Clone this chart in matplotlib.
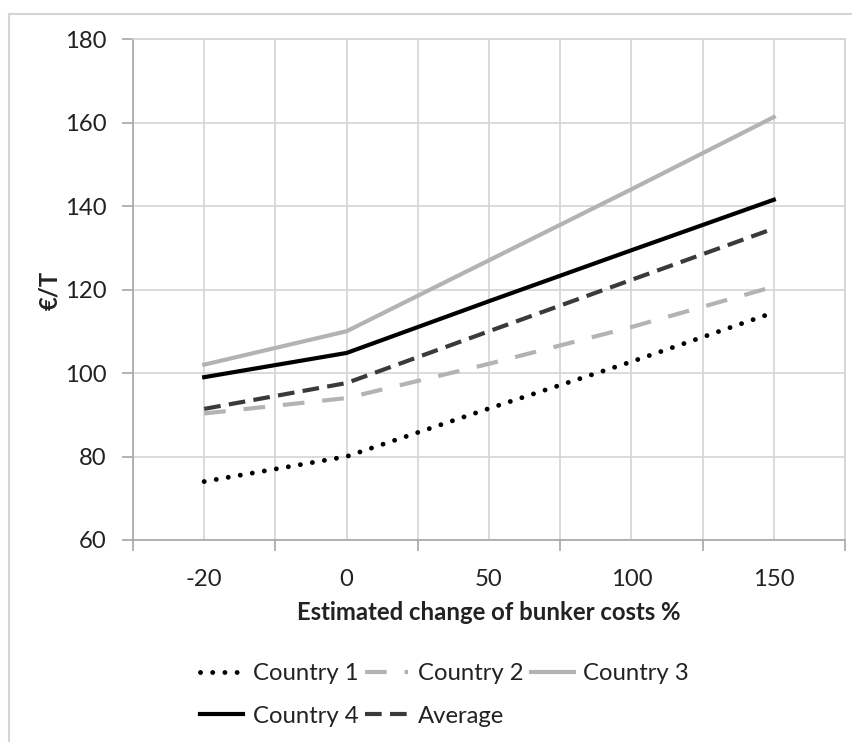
# Bunker cost scenario chart (Excel-style line chart)

import matplotlib
matplotlib.use('Agg')
import matplotlib.pyplot as plt
from matplotlib.lines import Line2D
import numpy as np

categories = ['-20', '0', '50', '100', '150']
country1 = [74.0, 80.0, 91.5, 102.7, 114.5]
country2 = [90.3, 94.0, 102.2, 111.0, 120.7]
country3 = [102.0, 110.0, 127.0, 144.0, 161.3]
country4 = [99.0, 104.8, 117.2, 129.4, 141.5]
average = [91.4, 97.6, 110.0, 122.3, 134.6]
y_ticks = [60, 80, 100, 120, 140, 160, 180]

plt.rcParams['font.family'] = ['Lato', 'DejaVu Sans']
FS = 17.2

W, H = 853, 742
fig = plt.figure(figsize=(W / 100, H / 100), dpi=100)
# plot area in pixel coords: x 133..845, y 39..540
ax = fig.add_axes([133 / W, 1 - 540 / H, (845 - 133) / W, (540 - 39) / H])

# outer chart frame (left and top edges visible)
frame_c = '#d4d4d4'
fig.add_artist(Line2D([9 / W, 9 / W], [0, 1 - 14 / H], color=frame_c, lw=1.5))
fig.add_artist(Line2D([9 / W, 1], [1 - 14 / H, 1 - 14 / H], color=frame_c, lw=1.5))

x = np.arange(len(categories))
lw = 3.0
l1, = ax.plot(x, country1, color='black', lw=3.5, linestyle=(0, (0.01, 2.5)),
              dash_capstyle='round', label='Country 1')
l2, = ax.plot(x, country2, color='#b3b3b3', lw=lw, linestyle=(0, (5.2, 4.3)),
              label='Country 2')
l3, = ax.plot(x, country3, color='#b3b3b3', lw=lw, label='Country 3')
l4, = ax.plot(x, country4, color='black', lw=lw, label='Country 4')
l5, = ax.plot(x, average, color='#3a3a3a', lw=lw, linestyle=(0, (4.0, 2.0)),
              label='Average')

ax.set_xlim(-0.5, len(categories) - 0.5)
ax.set_ylim(60, 180)

# major ticks at category boundaries (tick marks), minor at centers (labels)
ax.set_xticks(np.arange(-0.5, len(categories), 1.0))
ax.set_xticklabels([])
ax.set_xticks(x, minor=True)
ax.set_xticklabels(categories, minor=True)
ax.tick_params(axis='x', which='major', length=8, width=1.2, color='#a6a6a6', direction='out')
ax.tick_params(axis='x', which='minor', length=0, labelsize=FS, pad=21, labelcolor='#222222')
ax.set_yticks(y_ticks)
ax.tick_params(axis='y', length=8, width=1.2, color='#a6a6a6', labelsize=FS, pad=11,
               labelcolor='#222222')

grid_c = '#d4d4d4'
ax.grid(True, which='both', color=grid_c, lw=1.2)
ax.set_axisbelow(True)
for side in ['top', 'right']:
    ax.spines[side].set_color(grid_c)
    ax.spines[side].set_linewidth(1.2)
for side in ['left', 'bottom']:
    ax.spines[side].set_color('#a6a6a6')
    ax.spines[side].set_linewidth(1.2)

fig.text(489 / W, 1 - 613 / H, 'Estimated change of bunker costs %', ha='center', va='center',
         fontsize=FS, fontweight='bold', color='#222222')
fig.text(50 / W, 1 - 290 / H, '€/T', ha='center', va='center', rotation=90,
         fontsize=FS, fontweight='bold', color='#222222')

# legend: row 1 = Country 1..3, row 2 = Country 4, Average (column-wise fill)
handles = [l1, l4, l2, l5, l3]
leg = fig.legend(handles=handles, labels=[h.get_label() for h in handles], ncol=3,
                 loc='center left', bbox_to_anchor=(200 / W, 1 - 695 / H),
                 frameon=False, fontsize=FS, handlelength=1.8, handletextpad=0.4,
                 columnspacing=0.3, labelspacing=0.9, borderpad=0, borderaxespad=0)
for t in leg.get_texts():
    t.set_color('#222222')

fig.savefig('out.png', dpi=100)
